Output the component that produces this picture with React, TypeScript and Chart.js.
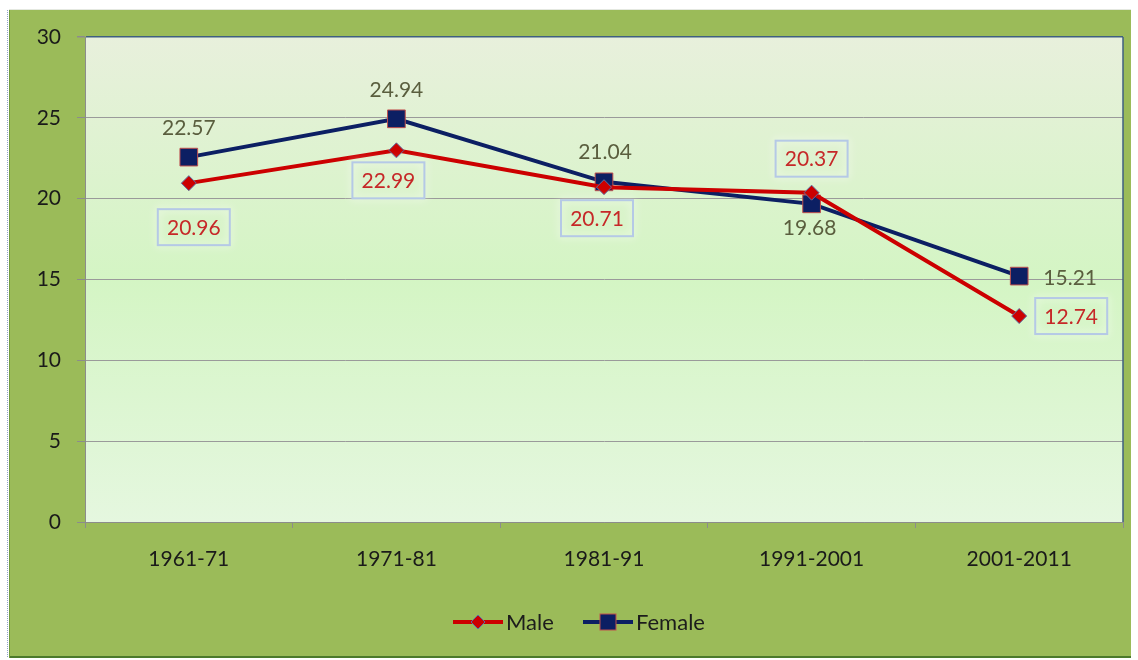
import React, { useEffect, useRef } from 'react';
import { Chart, registerables } from 'chart.js';

Chart.register(...registerables);

const categories = ['1961-71', '1971-81', '1981-91', '1991-2001', '2001-2011'];
const maleValues = [20.96, 22.99, 20.71, 20.37, 12.74];
const femaleValues = [22.57, 24.94, 21.04, 19.68, 15.21];
const seriesNames = ['Male', 'Female'];
const yMin = 0;
const yMax = 30;
const yStep = 5;

const FONT = 'Lato, "Open Sans", sans-serif';
const MALE_COLOR = '#cc0000';
const FEMALE_COLOR = '#0c1f63';

// label placement offsets (px) relative to each point
const maleLabelOffsets = [[5, 44], [-8, 30], [-7, 31], [0, -34], [52, 0]];
const femaleLabelOffsets = [[0, -29], [0, -29], [1, -30], [-2, 24], [51, 2]];

const backgroundPlugin = {
  id: 'bgPlugin',
  beforeDraw(chart: any) {
    const { ctx, chartArea, width, height } = chart;
    ctx.save();
    ctx.fillStyle = '#ffffff';
    ctx.fillRect(0, 0, width, height);
    ctx.fillStyle = '#e4e8e0';
    ctx.fillRect(9, 9, 1122, 1);
    ctx.fillStyle = '#9bbb59';
    ctx.fillRect(9, 10, 1122, 648);
    ctx.fillStyle = '#4b7a2c';
    ctx.fillRect(9, 656, 1122, 2);
    ctx.fillStyle = '#6f9a3d';
    ctx.fillRect(9, 10, 1, 648);
    ctx.strokeStyle = '#8ea3c7';
    ctx.setLineDash([1, 1]);
    ctx.lineWidth = 1;
    ctx.beginPath();
    ctx.moveTo(7.5, 10);
    ctx.lineTo(7.5, 658);
    ctx.stroke();
    ctx.setLineDash([]);
    const g = ctx.createLinearGradient(0, chartArea.top, 0, chartArea.bottom);
    g.addColorStop(0, '#e8f0dc');
    g.addColorStop(0.5, '#d4f5c4');
    g.addColorStop(1, '#e5f7df');
    ctx.fillStyle = g;
    ctx.fillRect(chartArea.left, chartArea.top, chartArea.right - chartArea.left, chartArea.bottom - chartArea.top);
    ctx.restore();
  },
  beforeDatasetsDraw(chart: any) {
    const { ctx, chartArea } = chart;
    ctx.save();
    ctx.strokeStyle = '#3f5f80';
    ctx.lineWidth = 1.5;
    ctx.beginPath();
    ctx.moveTo(chartArea.right, chartArea.top);
    ctx.lineTo(chartArea.right, chartArea.bottom);
    ctx.stroke();
    ctx.restore();
  },
};

const labelPlugin = {
  id: 'labelPlugin',
  afterDatasetsDraw(chart: any) {
    const { ctx } = chart;
    ctx.save();
    ctx.font = `21px ${FONT}`;
    ctx.textAlign = 'center';
    ctx.textBaseline = 'middle';
    const fMeta = chart.getDatasetMeta(1);
    fMeta.data.forEach((pt: any, i: number) => {
      const [dx, dy] = femaleLabelOffsets[i];
      ctx.fillStyle = '#5a5e3e';
      ctx.fillText(femaleValues[i].toFixed(2), pt.x + dx, pt.y + dy);
    });
    const mMeta = chart.getDatasetMeta(0);
    mMeta.data.forEach((pt: any, i: number) => {
      const [dx, dy] = maleLabelOffsets[i];
      const cx = pt.x + dx;
      const cy = pt.y + dy;
      const bw = 72;
      const bh = 36;
      ctx.save();
      ctx.shadowColor = 'rgba(255,255,255,0.95)';
      ctx.shadowBlur = 8;
      ctx.strokeStyle = '#b5c9e6';
      ctx.lineWidth = 2;
      ctx.strokeRect(cx - bw / 2, cy - bh / 2, bw, bh);
      ctx.restore();
      ctx.fillStyle = '#c62828';
      ctx.fillText(maleValues[i].toFixed(2), cx, cy + 1);
    });
    ctx.restore();
  },
};

const legendPlugin = {
  id: 'customLegend',
  afterDraw(chart: any) {
    const { ctx } = chart;
    ctx.save();
    const y = 622;
    const items = [
      { name: seriesNames[0], color: MALE_COLOR, x0: 453, x1: 503, style: 'diamond', tx: 506 },
      { name: seriesNames[1], color: FEMALE_COLOR, x0: 583, x1: 633, style: 'square', tx: 636 },
    ];
    items.forEach((it) => {
      ctx.strokeStyle = it.color;
      ctx.lineWidth = 4;
      ctx.beginPath();
      ctx.moveTo(it.x0, y);
      ctx.lineTo(it.x1, y);
      ctx.stroke();
      const cx = (it.x0 + it.x1) / 2;
      if (it.style === 'diamond') {
        ctx.fillStyle = MALE_COLOR;
        ctx.strokeStyle = '#5b6fa3';
        ctx.lineWidth = 1;
        ctx.beginPath();
        ctx.moveTo(cx, y - 7);
        ctx.lineTo(cx + 7, y);
        ctx.lineTo(cx, y + 7);
        ctx.lineTo(cx - 7, y);
        ctx.closePath();
        ctx.fill();
        ctx.stroke();
      } else {
        ctx.fillStyle = FEMALE_COLOR;
        ctx.strokeStyle = '#c0504d';
        ctx.lineWidth = 1;
        ctx.fillRect(cx - 8, y - 8, 16, 16);
        ctx.strokeRect(cx - 8, y - 8, 16, 16);
      }
      ctx.fillStyle = '#1c1c1c';
      ctx.font = `22px ${FONT}`;
      ctx.textAlign = 'left';
      ctx.textBaseline = 'middle';
      ctx.fillText(it.name, it.tx, y + 1);
    });
    ctx.restore();
  },
};

export default function App() {
  const ref = useRef<HTMLCanvasElement | null>(null);
  useEffect(() => {
    if (!ref.current) return;
    const chart = new Chart(ref.current, {
      type: 'line',
      data: {
        labels: categories,
        datasets: [
          {
            label: seriesNames[0],
            data: maleValues,
            borderColor: MALE_COLOR,
            backgroundColor: MALE_COLOR,
            borderWidth: 4,
            pointStyle: 'rectRot',
            pointRadius: 7.5,
            pointBorderWidth: 1,
            pointBorderColor: '#5b6fa3',
            pointBackgroundColor: MALE_COLOR,
            tension: 0,
          },
          {
            label: seriesNames[1],
            data: femaleValues,
            borderColor: FEMALE_COLOR,
            backgroundColor: FEMALE_COLOR,
            borderWidth: 4,
            pointStyle: 'rect',
            pointRadius: 12.5,
            pointBorderWidth: 1,
            pointBorderColor: '#c0504d',
            pointBackgroundColor: FEMALE_COLOR,
            tension: 0,
          },
        ],
      },
      options: {
        animation: false,
        responsive: false,
        devicePixelRatio: 1,
        layout: { padding: { top: 37, right: 15, bottom: 68, left: 0 } },
        plugins: {
          legend: { display: false },
          tooltip: { enabled: false },
        },
        scales: {
          x: {
            offset: true,
            grid: {
              display: true,
              offset: true,
              drawOnChartArea: false,
              drawTicks: true,
              tickLength: 6,
              color: '#8c8c8c',
            },
            border: { display: true, color: '#8c8c8c', width: 1 },
            ticks: {
              color: '#1a1a1a',
              font: { family: FONT, size: 21 },
              padding: 19,
              maxRotation: 0,
            },
            afterFit: (s: any) => {
              s.height = 70;
            },
          },
          y: {
            min: yMin,
            max: yMax,
            ticks: {
              stepSize: yStep,
              color: '#1a1a1a',
              font: { family: FONT, size: 21 },
              padding: 16,
            },
            grid: {
              color: (c: any) => (c.tick && c.tick.value === yMax ? '#3f5f80' : '#9a9a9a'),
              lineWidth: (c: any) => (c.tick && c.tick.value === yMax ? 1.5 : 1),
              tickLength: 8,
              tickColor: '#8c8c8c',
            },
            border: { display: true, color: '#8c8c8c', width: 1 },
            afterFit: (s: any) => {
              s.width = 85;
            },
          },
        },
      },
      plugins: [backgroundPlugin, labelPlugin, legendPlugin],
    });
    return () => chart.destroy();
  }, []);
  return (
    <div style={{ position: 'fixed', left: 0, top: 0, width: 1138, height: 660, overflow: 'hidden' }}>
      <canvas ref={ref} width={1138} height={660} style={{ display: 'block', width: 1138, height: 660 }} />
    </div>
  );
}
